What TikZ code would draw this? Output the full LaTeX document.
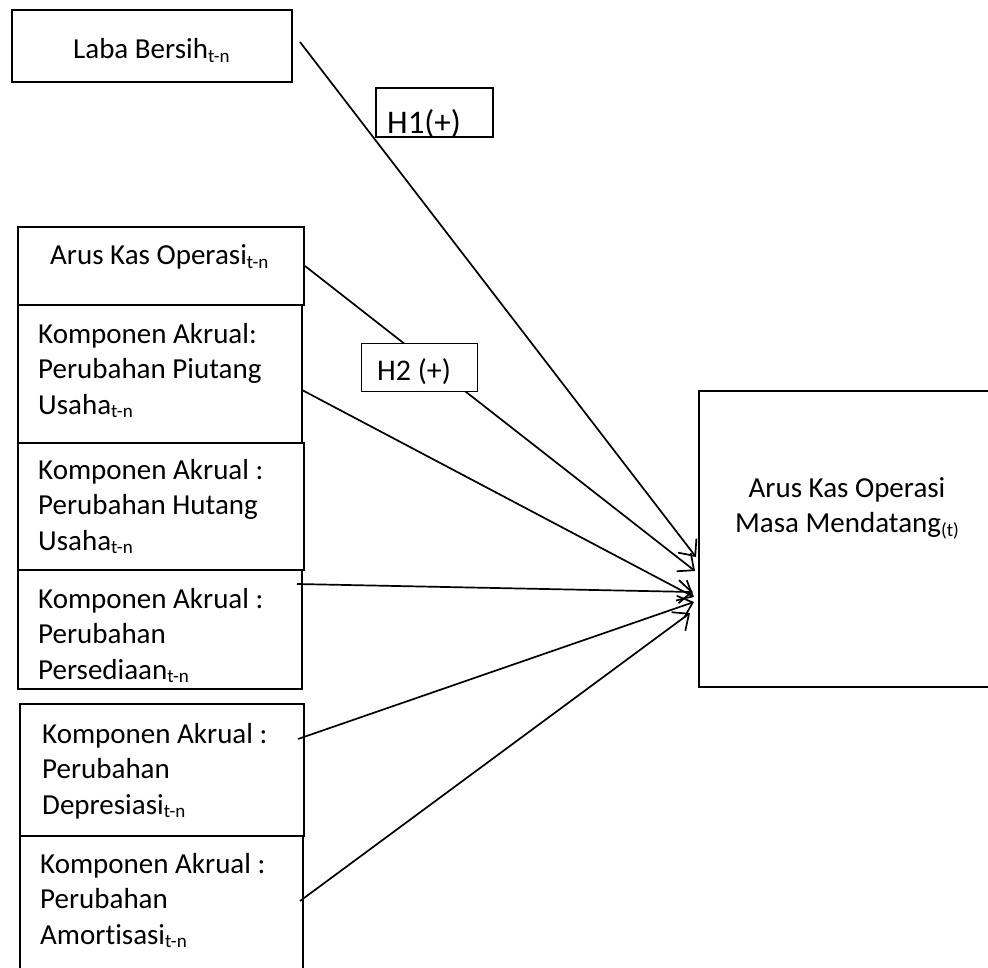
\documentclass[tikz,border=0pt]{standalone}
\usepackage{fontspec}
\setmainfont{Carlito}[Ligatures=NoCommon]
\usetikzlibrary{arrows.meta}
\newcommand{\sbn}[1]{\raisebox{-3.5pt}{\fontsize{19}{19}\selectfont #1}}
\begin{document}
\begin{tikzpicture}[x=1pt,y=-1pt,
  box/.style={draw, line width=1.9pt, inner sep=0pt, anchor=north west, fill=white},
  txt/.style={anchor=base west, inner sep=0pt, font=\fontsize{29}{35.5}\selectfont},
  arr/.style={line width=1.7pt, -{Straight Barb[length=13pt,width=23pt,line width=1.7pt]}}]
\useasboundingbox (0,0) rectangle (988,968);

% left boxes
\node[box, minimum width=280pt, minimum height=72pt] (laba) at (11,9) {};
\node[box, minimum width=286pt, minimum height=78pt] (ako) at (17,226) {};
\node[box, minimum width=284pt, minimum height=138pt] (piutang) at (17,304) {};
\node[box, minimum width=286pt, minimum height=127pt] (hutang) at (17,442) {};
\node[box, minimum width=284pt, minimum height=119pt] (persediaan) at (17,569) {};
\node[box, minimum width=284pt, minimum height=132pt] (depresiasi) at (19,703) {};
\node[box, minimum width=283pt, minimum height=145pt] (amortisasi) at (19,835) {};
% target box
\node[box, minimum width=296pt, minimum height=296pt] (target) at (698,390) {};

% texts
\node[txt] (tlaba) at (73,59) {Laba Bersih\sbn{t-n}};
\node[txt] (tako) at (50,265) {Arus Kas Operasi\sbn{t-n}};
\node[txt] (tpiutang) at (38,343) {\begin{tabular}[t]{@{}l@{}}Komponen Akrual:\\ Perubahan Piutang\\ Usaha\sbn{t-n}\end{tabular}};
\node[txt] (thutang) at (38,479) {\begin{tabular}[t]{@{}l@{}}Komponen Akrual :\\ Perubahan Hutang\\ Usaha\sbn{t-n}\end{tabular}};
\node[txt] (tpersediaan) at (38,608) {\begin{tabular}[t]{@{}l@{}}Komponen Akrual :\\ Perubahan\\ Persediaan\sbn{t-n}\end{tabular}};
\node[txt] (tdepresiasi) at (42,743) {\begin{tabular}[t]{@{}l@{}}Komponen Akrual :\\ Perubahan\\ Depresiasi\sbn{t-n}\end{tabular}};
\node[txt] (tamortisasi) at (40,873) {\begin{tabular}[t]{@{}l@{}}Komponen Akrual :\\ Perubahan\\ Amortisasi\sbn{t-n}\end{tabular}};
\node[txt, anchor=base] (ttarget) at (847,497) {\begin{tabular}[t]{@{}c@{}}Arus Kas Operasi\\ Masa Mendatang\sbn{(t)}\end{tabular}};

% connectors
\coordinate (s1) at (300,42);  \coordinate (e1) at (696,557);
\coordinate (s2) at (305,266); \coordinate (e2) at (695,571);
\coordinate (s3) at (302,390); \coordinate (e3) at (694,597);
\coordinate (s4) at (297,584); \coordinate (e4) at (693,592);
\coordinate (s5) at (298,739); \coordinate (e5) at (694,602);
\coordinate (s6) at (300,901); \coordinate (e6) at (690,613);
\draw[arr] (s1) -- (e1);
\draw[arr] (s2) -- (e2);
\draw[arr] (s3) -- (e3);
\draw[arr] (s4) -- (e4);
\draw[arr] (s5) -- (e5);
\draw[arr] (s6) -- (e6);

% hypothesis labels
\node[box, line width=1.2pt, minimum width=116pt, minimum height=48pt] (h1) at (376,88) {};
\begin{scope}
  \clip (h1.north west) rectangle (h1.south east);
  \node[txt, font=\fontsize{33}{40}\selectfont] (th1) at (387,134) {H1(+)};
\end{scope}
\draw[line width=1.2pt] (h1.north west) rectangle (h1.south east);
\node[box, line width=1.2pt, minimum width=116pt, minimum height=48pt] (h2) at (361,343) {};
\node[txt, font=\fontsize{30}{36}\selectfont] (th2) at (377,381) {H2 (+)};
\end{tikzpicture}
\end{document}
